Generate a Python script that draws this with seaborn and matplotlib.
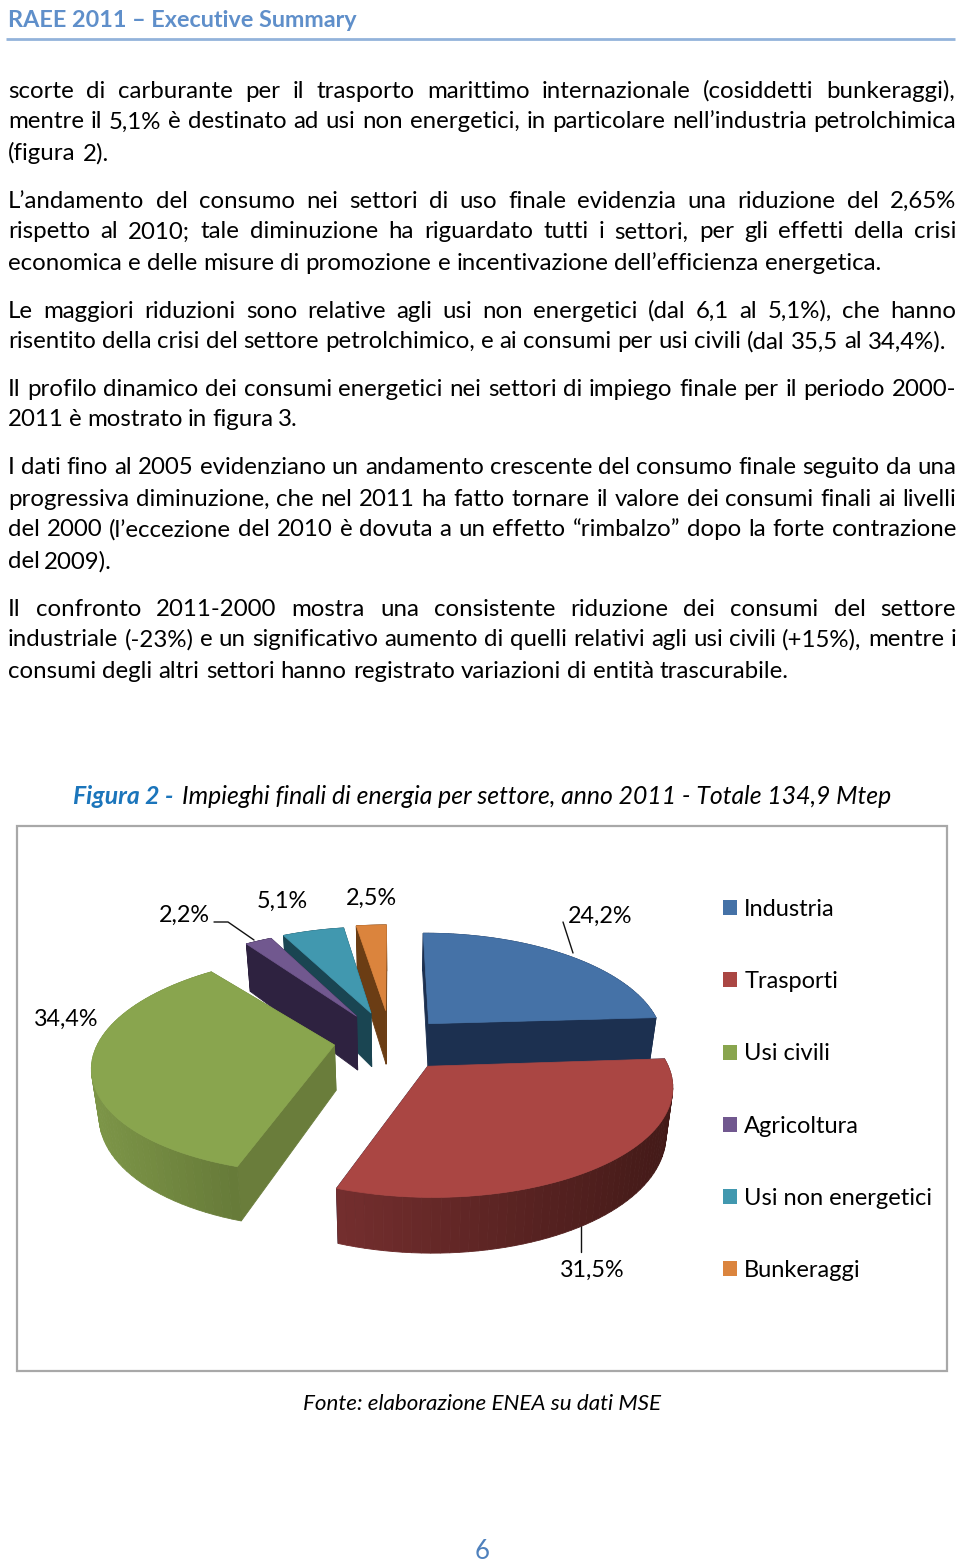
import numpy as np
import matplotlib
matplotlib.use("Agg")
import matplotlib.pyplot as plt
from matplotlib.patches import Patch, Rectangle
from matplotlib.colors import to_rgb
import seaborn as sns

# dati del grafico
settori = ["Industria", "Trasporti", "Usi civili", "Agricoltura", "Usi non energetici", "Bunkeraggi"]
quote = [24.2, 31.5, 34.4, 2.2, 5.1, 2.5]
etichette = ["24,2%", "31,5%", "34,4%", "2,2%", "5,1%", "2,5%"]

# aspetto degli spicchi
esplosione = [0.17, 0.17, 0.29, 0.32, 0.30, 0.30]
rotazione = [-0.5, -1.2, -3.5, 0, 0, 0]
ritocco = [(2, -8), (3, 6), (2, -6), (-6, 0), (-8, -2), (-9, -3)]
scala_y = [1, 0.94, 0.95, 1, 1, 1]
scala_lato = [1, 1, 1, 1.25, 1.25, 1.25]
colori = ["#4572a7", "#aa4643", "#89a54e", "#71588f", "#4198af", "#db843d"]
lato_sx = ["#1c3050", "#742e2e", "#7d9648", "#2e2240", "#1a4552", "#6b3d14"]
lato_dx = ["#1c3050", "#431a18", "#667a38", "#2e2240", "#1a4552", "#6b3d14"]
taglio = ["#1c3050", "#1c3050", "#6a7d3b", "#2e2240", "#1a4552", "#6b3d14"]

# testo della pagina: (riga, x destra, y centro)
righe = [
    ("scorte di carburante per il trasporto marittimo internazionale (cosiddetti bunkeraggi),", 955, 89),
    ("mentre il 5,1% è destinato ad usi non energetici, in particolare nell’industria petrolchimica", 956, 120),
    ("(figura 2).", 109, 152),
    ("L’andamento del consumo nei settori di uso finale evidenzia una riduzione del 2,65%", 956, 199),
    ("rispetto al 2010; tale diminuzione ha riguardato tutti i settori, per gli effetti della crisi", 956, 230),
    ("economica e delle misure di promozione e incentivazione dell’efficienza energetica.", 881, 262),
    ("Le maggiori riduzioni sono relative agli usi non energetici (dal 6,1 al 5,1%), che hanno", 956, 309),
    ("risentito della crisi del settore petrolchimico, e ai consumi per usi civili (dal 35,5 al 34,4%).", 946, 340),
    ("Il profilo dinamico dei consumi energetici nei settori di impiego finale per il periodo 2000-", 956, 387),
    ("2011 è mostrato in figura 3.", 298, 418),
    ("I dati fino al 2005 evidenziano un andamento crescente del consumo finale seguito da una", 956, 465),
    ("progressiva diminuzione, che nel 2011 ha fatto tornare il valore dei consumi finali ai livelli", 956, 497),
    ("del 2000 (l’eccezione del 2010 è dovuta a un effetto “rimbalzo” dopo la forte contrazione", 956, 528),
    ("del 2009).", 112, 560),
    ("Il confronto 2011-2000 mostra una consistente riduzione dei consumi del settore", 956, 607),
    ("industriale (-23%) e un significativo aumento di quelli relativi agli usi civili (+15%), mentre i", 956, 638),
    ("consumi degli altri settori hanno registrato variazioni di entità trascurabile.", 789, 669),
]

sns.set_theme(style="white")
plt.rcParams['font.family'] = 'Lato'
plt.rcParams['text.color'] = '#000000'

fig = plt.figure(figsize=(9.6, 15.63), dpi=100)
ax = fig.add_axes([0, 0, 1, 1])
ax.set_xlim(0, 960)
ax.set_ylim(1563, 0)
ax.axis("off")
renderer = fig.canvas.get_renderer()

CX, CY, RX, RY, K, DEPTH, CONV = 400, 1045, 235, 110, 0.17, 45, 0.025


def larghezza(s, size, **kw):
    t = ax.text(0, 0, s, fontsize=size, **kw)
    w = t.get_window_extent(renderer).width
    t.remove()
    return w


def riga_giustificata(s, x1, yc, size, x0=8):
    parole = s.split(" ")
    larg = [larghezza(p, size) for p in parole]
    spazio = (x1 - x0 - sum(larg)) / max(len(parole) - 1, 1)
    x = x0
    for p, w in zip(parole, larg):
        ax.text(x, yc + 8.5, p, fontsize=size, va="baseline", ha="left")
        x += w + spazio


def proietta(u, v, i):
    w = 1 + K * v
    x = CX + RX * u / w
    y = CY - RY * v / w
    return x, y, DEPTH * scala_lato[i] / w


def disegna_spicchio(i, a1, a2, z):
    a1, a2 = a1 + rotazione[i], a2 + rotazione[i]
    mid = np.radians((a1 + a2) / 2)
    eu, ev = esplosione[i] * np.sin(mid), esplosione[i] * np.cos(mid)
    ang = np.radians(np.linspace(a1, a2, 60))
    u = eu + np.sin(ang)
    v = ev + np.cos(ang)
    dx, dy = ritocco[i]
    xt, yt, dt = proietta(u, v, i)
    xa, ya, da = proietta(eu, ev, i)
    yt = ya + (yt - ya) * scala_y[i] + dy
    ya = ya + dy
    xt, xa = xt + dx, xa + dx
    # lato inferiore: le verticali convergono appena verso il centro
    xb = xt + (CX - xt) * CONV
    yb = yt + dt
    xc = xa + (CX - xa) * CONV
    yc = ya + da

    # facce laterali, dalle piu' lontane alle piu' vicine
    facce = []
    for j in (0, -1):
        facce.append(((ev + v[j]) / 2, [xa, xt[j], xb[j], xc], [ya, yt[j], yb[j], yc], taglio[i]))
    c1, c2 = np.array(to_rgb(lato_sx[i])), np.array(to_rgb(lato_dx[i]))
    span = max(xt.max() - xt.min(), 1)
    for k in range(len(ang) - 1):
        t = ((xt[k] + xt[k + 1]) / 2 - xt.min()) / span
        facce.append(((v[k] + v[k + 1]) / 2,
                      [xt[k], xt[k + 1], xb[k + 1], xb[k]],
                      [yt[k], yt[k + 1], yb[k + 1], yb[k]], c1 + (c2 - c1) * t))
    for _, fx, fy, col in sorted(facce, key=lambda f: -f[0]):
        ax.fill(fx, fy, color=col, lw=0.6, zorder=z)

    ax.fill(np.r_[xa, xt], np.r_[ya, yt], color=colori[i], lw=0.5, zorder=z + 0.5)


# intestazione
ax.text(8, 27, "RAEE 2011 – Executive Summary", fontsize=16.8, fontweight="bold", color="#5f8fca", va="baseline")
ax.plot([6, 955], [38.5, 38.5], color="#93b3db", lw=2.0, solid_capstyle="butt")

# corpo del testo: dimensione ricavata dalla riga libera piu' lunga
size_corpo = 10 * (881 - 8) / larghezza(righe[5][0], 10) * 1.0
for s, x1, yc in righe:
    riga_giustificata(s, x1, yc, size_corpo)

# titolo figura
tit1 = "Figura 2 - "
tit2 = "Impieghi finali di energia per settore, anno 2011 - Totale 134,9 Mtep"
size_tit = 10 * (888 - 73) / (larghezza(tit1, 10, fontweight="bold", style="italic") + larghezza(tit2, 10, style="italic"))
ax.text(73, 804, tit1, fontsize=size_tit, fontweight="bold", style="italic", color="#1b75bb", va="baseline")
ax.text(73 + larghezza(tit1, size_tit, fontweight="bold", style="italic") + 3, 804, tit2, fontsize=size_tit,
        style="italic", va="baseline")

# riquadro del grafico
ax.add_patch(Rectangle((17, 826), 930, 545, fill=False, ec="#a8a8a8", lw=1.6, zorder=1))

# torta 3D: angoli dalle quote, in senso orario dall'alto
tot = sum(quote)
limiti = np.r_[0, np.cumsum(quote)] / tot * 360
for z, i in enumerate([5, 4, 3, 0, 2, 1]):
    disegna_spicchio(i, limiti[i], limiti[i + 1], 3 + z)

# etichette e linee guida
pos_etichette = [(600, 923), (592, 1277), (66, 1026), (184, 922), (282, 908), (371, 905)]
for lab, (x, y) in zip(etichette, pos_etichette):
    ax.text(x, y, lab, fontsize=16.8, ha="center", va="baseline", zorder=12)
ax.plot([214, 228, 254], [922, 922, 940], color="#111111", lw=1.0, zorder=12)
ax.plot([563, 573], [922, 953], color="#111111", lw=1.0, zorder=12)
ax.plot([581, 581], [1224, 1252], color="#111111", lw=1.0, zorder=2)

# legenda
maniglie = [Patch(facecolor=c, edgecolor="none", label=s) for c, s in zip(colori, settori)]
ax.legend(handles=maniglie, loc="upper left", bbox_to_anchor=(723, 899), bbox_transform=ax.transData,
          frameon=False, fontsize=17, labelspacing=2.17, handlelength=0.6, handleheight=0.6,
          handletextpad=0.3, borderpad=0, borderaxespad=0)

# fonte e numero di pagina
ax.text(482, 1410, "Fonte: elaborazione ENEA su dati MSE", fontsize=16.1, style="italic", ha="center", va="baseline")
ax.text(482, 1559, "6", fontsize=18.5, color="#4f81bd", ha="center", va="baseline")

fig.savefig("out.png", dpi=100, facecolor="white")
plt.close(fig)
